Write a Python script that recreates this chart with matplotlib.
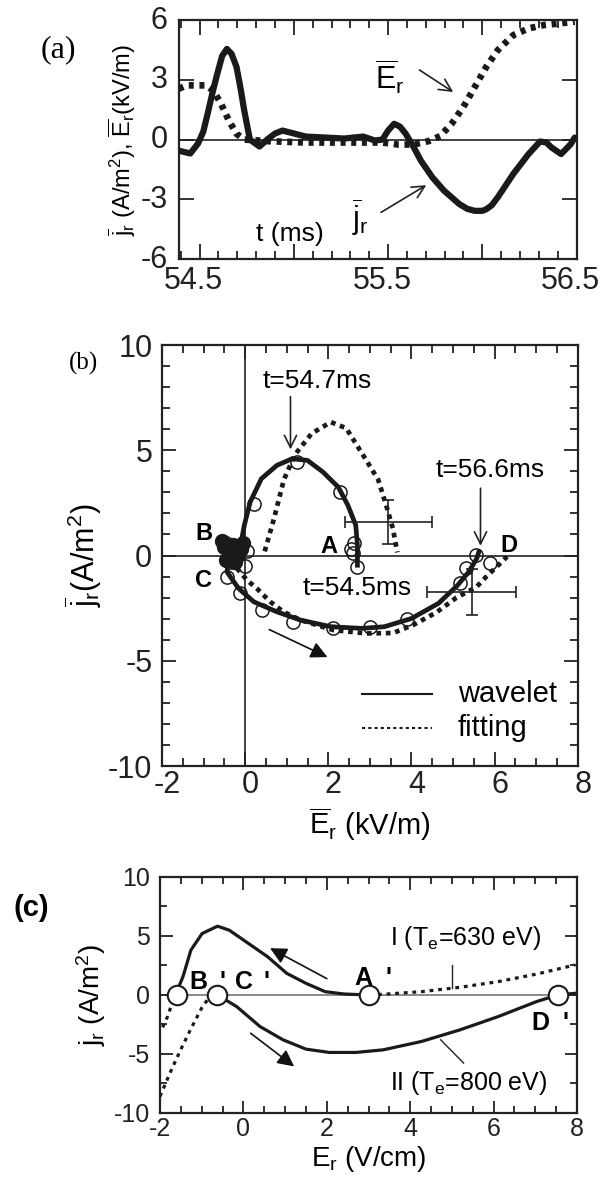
import matplotlib
matplotlib.use('Agg')
import matplotlib.pyplot as plt
from matplotlib.ticker import MultipleLocator
from matplotlib.transforms import ScaledTranslation

plt.rcParams['font.family'] = ['Liberation Sans', 'DejaVu Sans']
plt.rcParams['mathtext.fontset'] = 'custom'
plt.rcParams['mathtext.rm'] = 'Liberation Sans'
plt.rcParams['mathtext.it'] = 'Liberation Sans'
plt.rcParams['mathtext.bf'] = 'Liberation Sans:bold'
plt.rcParams['axes.unicode_minus'] = False

# ---------------- data: panel (a) ----------------
t_j = [54.39, 54.451, 54.492, 54.52, 54.543, 54.57, 54.594, 54.62, 54.645, 54.67,
       54.696, 54.717, 54.737, 54.767, 54.818, 54.859, 54.90, 54.94, 55.002, 55.063,
       55.165, 55.267, 55.368, 55.43, 55.47, 55.50, 55.532, 55.563, 55.593, 55.634,
       55.674, 55.735, 55.797, 55.878, 55.92, 55.96, 56.0, 56.021, 56.05, 56.082,
       56.164, 56.245, 56.306, 56.34, 56.367, 56.418, 56.469, 56.49]
j_t = [-0.56, -0.7, -0.2, 0.4, 1.3, 2.4, 3.3, 4.2, 4.55, 4.3,
       3.65, 2.6, 1.46, 0.0, -0.35, 0.0, 0.3, 0.45, 0.3, 0.15,
       0.1, 0.05, 0.15, -0.05, 0.0, 0.45, 0.79, 0.65, 0.3, -0.35,
       -1.06, -1.9, -2.57, -3.24, -3.48, -3.58, -3.58, -3.5, -3.3, -2.9,
       -1.73, -0.73, -0.1, -0.15, -0.4, -0.73, -0.23, 0.1]
t_E = [54.39, 54.431, 54.533, 54.573, 54.614, 54.655, 54.696, 54.737, 54.859, 55.063,
       55.267, 55.47, 55.552, 55.634, 55.715, 55.776, 55.837, 55.899, 55.96, 56.021,
       56.082, 56.164, 56.245, 56.327, 56.408, 56.49]
E_t = [2.55, 2.72, 2.72, 2.46, 1.8, 0.96, 0.29, 0.0, -0.08, -0.15,
       -0.15, -0.15, -0.25, -0.25, -0.08, 0.17, 0.79, 1.63, 2.64, 3.65,
       4.49, 5.24, 5.58, 5.75, 5.83, 5.92]
a_xticks = [54.5, 55.0, 55.5, 56.0, 56.5]
a_xticklabels = ['54.5', '', '55.5', '', '56.5']
a_yticks = [-6, -3, 0, 3, 6]

# ---------------- data: panel (b) ----------------
wav_E = [2.70, 2.70, 2.66, 2.47, 2.24, 1.87, 1.50, 1.13, 0.76, 0.39, 0.12, -0.02, -0.11,
         -0.35, -0.44, -0.16, 0.21, 0.76, 1.32, 2.06, 2.80, 3.35, 4.00, 4.65, 5.11, 5.38,
         5.57, 5.62]
wav_j = [-0.46, 0.49, 1.44, 2.39, 3.25, 3.97, 4.52, 4.60, 4.28, 3.65, 2.54, 1.44, 0.49,
         0.17, -0.77, -1.56, -2.20, -2.67, -3.06, -3.38, -3.46, -3.38, -2.99, -2.27, -1.41,
         -0.77, -0.14, 0.17]
circ_E = [2.62, 2.60, 2.70, 2.55, 2.28, 1.24, 0.22, -0.45, -0.20, 0.05, -0.35, 0.0,
          -0.44, -0.13, 0.40, 1.16, 2.12, 3.0, 3.9, 5.16, 5.56, 5.88, 5.30]
circ_j = [0.60, 0.10, -0.53, 0.30, 3.03, 4.45, 2.45, 0.60, 0.40, 0.20, -0.30, -0.50,
          -1.00, -1.80, -2.59, -3.14, -3.46, -3.38, -3.0, -1.32, 0.02, -0.37, -0.60]
blob_E = [-0.50, -0.40, -0.30, -0.20, -0.10, -0.45, -0.25, -0.05, -0.55, -0.35, -0.15]
blob_j = [0.40, 0.10, 0.50, 0.00, 0.30, -0.20, -0.30, 0.60, 0.70, 0.25, 0.15]
fitU_E = [0.47, 0.70, 0.93, 1.20, 1.60, 2.06, 2.43, 2.89, 3.20, 3.42, 3.55, 3.66]
fitU_j = [0.20, 1.80, 3.60, 4.80, 5.80, 6.34, 6.05, 4.60, 3.60, 2.20, 1.30, 0.15]
fitL_E = [-0.20, 0.04, 0.30, 0.60, 0.92, 1.32, 2.12, 2.92, 3.56, 4.04, 4.60, 5.08,
          5.56, 5.80, 6.05, 6.30]
fitL_j = [-0.60, -1.16, -1.60, -2.19, -2.67, -3.06, -3.54, -3.70, -3.68, -3.30, -2.70,
          -2.00, -1.50, -1.00, -0.53, -0.05]
err_E = [3.44, 5.45]
err_j = [1.60, -1.72]
err_xe = [1.05, 1.07]
err_ye = [1.05, 1.10]

# ---------------- data: panel (c) ----------------
cI_E = [-1.63, -1.45, -1.26, -0.99, -0.62, -0.34, 0.12, 0.58, 1.04, 1.50, 1.96, 2.42, 3.02]
cI_j = [0.0, 1.55, 3.80, 5.21, 5.83, 5.49, 4.37, 3.24, 1.83, 0.99, 0.28, 0.08, 0.0]
cIdot_E = [3.02, 3.35, 4.27, 5.19, 6.11, 7.03, 7.95]
cIdot_j = [0.0, 0.06, 0.28, 0.65, 1.13, 1.77, 2.54]
cII_E = [-0.62, -0.16, 0.40, 0.95, 1.50, 2.06, 2.70, 3.35, 4.27, 5.19, 6.11, 7.03, 7.54, 7.95]
cII_j = [0.0, -0.99, -2.68, -3.80, -4.59, -4.87, -4.87, -4.65, -3.94, -2.96, -1.83, -0.56, 0.0, 0.14]
cLdot_E = [-2.0, -1.76, -1.50, -1.25, -1.00, -0.80]
cLdot_j = [-8.6, -6.6, -4.6, -2.8, -1.1, -0.1]
cBdot_E = [-1.68, -1.82, -1.97]
cBdot_j = [-0.4, -1.83, -3.0]
pts_E = [-1.60, -0.63, 3.02, 7.54]
pts_j = [0.0, 0.0, 0.0, 0.0]

# ---------------- figure ----------------
fig = plt.figure(figsize=(6, 11.8), dpi=100)


def style(ax, maj=9, mnr=5):
    ax.tick_params(which='both', direction='in', top=True, right=True, width=1.3,
                   colors='#222222')
    ax.tick_params(which='major', length=maj)
    ax.tick_params(which='minor', length=mnr)
    for s in ax.spines.values():
        s.set_linewidth(1.6)
        s.set_color('#222222')


def shift_labels(ax, axis, dx_px=0, dy_px=0):
    labels = ax.get_xticklabels() if axis == 'x' else ax.get_yticklabels()
    off = ScaledTranslation(dx_px / 100, dy_px / 100, fig.dpi_scale_trans)
    for lbl in labels:
        lbl.set_transform(lbl.get_transform() + off)


# ----- (a) -----
axa = fig.add_axes([0.298, 0.7805, 0.663, 0.2025])
axa.axhline(0, color='#222222', lw=1.2, zorder=1)
axa.plot(t_j, j_t, color='#1a1a1a', lw=4.5, solid_joinstyle='round',
         solid_capstyle='round', zorder=3)
axa.plot(t_E, E_t, color='#1a1a1a', lw=4.8, linestyle=(0, (0.75, 0.85)),
         dash_capstyle='butt', zorder=2)
axa.set_xlim(54.39, 56.5)
axa.set_ylim(-6, 6)
axa.set_xticks(a_xticks)
axa.set_xticklabels(a_xticklabels)
axa.xaxis.set_minor_locator(MultipleLocator(0.1))
axa.set_yticks(a_yticks)
style(axa, maj=11, mnr=6)
axa.tick_params(labelsize=22, pad=3)
axa.tick_params(axis='x', pad=5)
axa.tick_params(axis='y', pad=8)
shift_labels(axa, 'x', dx_px=-6)
shift_labels(axa, 'y', dy_px=3)
axa.set_ylabel(r'$\overline{j}_r$ (A/m$^2$), $\overline{E}_r$(kV/m)', fontsize=17, labelpad=2)
axa.text(54.98, -4.74, 't (ms)', fontsize=19, ha='center', va='center')
axa.text(55.51, 3.15, r'$\overline{E}_r$', fontsize=22, ha='center', va='center')
axa.annotate('', xy=(55.858, 2.31), xytext=(55.654, 3.57),
             arrowprops=dict(arrowstyle='->', lw=1.2, color='#222222',
                             mutation_scale=22))
axa.text(55.35, -3.95, r'$\overline{j}_r$', fontsize=22, ha='center', va='center')
axa.annotate('', xy=(55.715, -2.22), xytext=(55.45, -3.73),
             arrowprops=dict(arrowstyle='->', lw=1.2, color='#222222',
                             mutation_scale=22))
fig.text(58 / 600, 1 - 50 / 1180, '(a)', family='Liberation Serif', fontsize=23,
         ha='center', va='center')

# ----- (b) -----
axb = fig.add_axes([0.27, 0.3508, 0.693, 0.3568])
axb.axhline(0, color='#222222', lw=1.2, zorder=1)
axb.axvline(0, color='#222222', lw=1.2, zorder=1)
axb.plot(fitU_E, fitU_j, color='#1a1a1a', lw=3.4, linestyle=(0, (1, 1)),
         dash_capstyle='butt', zorder=2)
axb.plot(fitL_E, fitL_j, color='#1a1a1a', lw=3.4, linestyle=(0, (1, 1)),
         dash_capstyle='butt', zorder=2)
axb.plot(wav_E, wav_j, color='#1a1a1a', lw=3.4, solid_joinstyle='round', zorder=3)
axb.plot(circ_E, circ_j, linestyle='none', marker='o', ms=9.5, mfc='none',
         mec='#1a1a1a', mew=1.1, zorder=4)
axb.plot(blob_E, blob_j, linestyle='none', marker='o', ms=10, mfc='#1a1a1a',
         mec='#1a1a1a', zorder=4)
axb.errorbar(err_E, err_j, xerr=err_xe, yerr=err_ye, fmt='none', ecolor='#222222',
             elinewidth=1.2, capsize=4, capthick=1.2, zorder=3)
axb.set_xlim(-2, 8)
axb.set_ylim(-10, 10)
axb.xaxis.set_major_locator(MultipleLocator(2))
axb.xaxis.set_minor_locator(MultipleLocator(0.5))
axb.yaxis.set_major_locator(MultipleLocator(5))
axb.yaxis.set_minor_locator(MultipleLocator(1))
style(axb, maj=10, mnr=6)
axb.tick_params(labelsize=22, pad=3)
axb.tick_params(axis='y', pad=7)
shift_labels(axb, 'x', dx_px=5)
axb.set_xlabel(r'$\overline{E}_r$ (kV/m)', fontsize=21, labelpad=4)
axb.set_ylabel(r'$\overline{j}_r$(A/m$^2$)', fontsize=22, labelpad=2)
axb.text(1.73, 8.31, 't=54.7ms', fontsize=19, ha='center', va='center')
axb.annotate('', xy=(1.09, 4.91), xytext=(1.09, 7.68),
             arrowprops=dict(arrowstyle='->', lw=1.2, color='#222222',
                             mutation_scale=22))
axb.text(5.89, 4.04, 't=56.6ms', fontsize=19, ha='center', va='center')
axb.annotate('', xy=(5.66, 0.33), xytext=(5.66, 3.33),
             arrowprops=dict(arrowstyle='->', lw=1.2, color='#222222',
                             mutation_scale=22))
axb.text(2.70, -1.56, 't=54.5ms', fontsize=19, ha='center', va='center')
for lab, x, y in [('A', 2.01, 0.41), ('B', -0.99, 1.04), ('C', -0.99, -1.2), ('D', 6.35, 0.49)]:
    axb.text(x, y, lab, fontsize=17, fontweight='bold', ha='center', va='center')
axb.annotate('', xy=(2.04, -4.88), xytext=(0.52, -3.46),
             arrowprops=dict(arrowstyle='-|>', lw=1.2, color='#111111',
                             mutation_scale=25))
axb.plot([2.8, 4.5], [-6.56, -6.56], color='#1a1a1a', lw=1.5)
axb.plot([2.8, 4.5], [-8.2, -8.2], color='#1a1a1a', lw=1.5, linestyle=(0, (1.5, 1.5)))
axb.text(5.11, -6.56, 'wavelet', fontsize=21, ha='left', va='center')
axb.text(5.11, -8.2, 'fitting', fontsize=21, ha='left', va='center')
fig.text(83 / 600, 1 - 363 / 1180, '(b)', family='Liberation Serif', fontsize=18,
         ha='center', va='center')

# ----- (c) -----
axc = fig.add_axes([0.2667, 0.0568, 0.695, 0.2])
axc.axhline(0, color='#777777', lw=1.2, zorder=1)
axc.plot(cI_E, cI_j, color='#1a1a1a', lw=2.3, zorder=3)
axc.plot(cII_E, cII_j, color='#1a1a1a', lw=2.3, zorder=3)
axc.plot(cIdot_E, cIdot_j, color='#1a1a1a', lw=2.3, linestyle=(0, (1.2, 1.5)), zorder=2)
axc.plot(cLdot_E, cLdot_j, color='#1a1a1a', lw=2.3, linestyle=(0, (1.2, 1.5)), zorder=2)
axc.plot(cBdot_E, cBdot_j, color='#1a1a1a', lw=2.3, linestyle=(0, (1.2, 1.5)), zorder=2)
axc.plot(pts_E, pts_j, linestyle='none', marker='o', ms=14, mfc='white',
         mec='#1a1a1a', mew=1.5, zorder=5, clip_on=False)
axc.set_xlim(-2, 8)
axc.set_ylim(-10, 10)
axc.xaxis.set_major_locator(MultipleLocator(2))
axc.xaxis.set_minor_locator(MultipleLocator(0.5))
axc.yaxis.set_major_locator(MultipleLocator(5))
axc.yaxis.set_minor_locator(MultipleLocator(2.5))
style(axc, maj=9, mnr=5)
axc.tick_params(labelsize=18, pad=3)
axc.tick_params(axis='y', pad=7)
axc.set_xlabel(r'$E_r$ (V/cm)', fontsize=20, labelpad=2)
axc.set_ylabel(r'$j_r$ (A/m$^2$)', fontsize=20, labelpad=4)
for lab, x, y in [('B', -1.08, 1.13), ("'", -0.5, 1.13), ('C', 0.02, 1.13), ("'", 0.55, 1.13),
                  ('A', 2.88, 1.41), ("'", 3.48, 1.41), ('D', 7.12, -2.39), ("'", 7.72, -2.39)]:
    axc.text(x, y, lab, fontsize=18, fontweight='bold', ha='center', va='center', zorder=6)
axc.text(5.33, 4.79, r'I (T$_e$=630 eV)', fontsize=18, ha='center', va='center')
axc.text(5.40, -7.46, r'II (T$_e$=800 eV)', fontsize=18, ha='center', va='center')
axc.plot([5.0, 5.0], [2.54, 0.56], color='#222222', lw=1.0)
axc.plot([4.73, 5.28], [-3.8, -5.77], color='#222222', lw=1.0)
axc.annotate('', xy=(0.58, 4.08), xytext=(2.06, 1.27),
             arrowprops=dict(arrowstyle='-|>', lw=1.2, color='#111111',
                             mutation_scale=25))
axc.annotate('', xy=(1.27, -6.2), xytext=(0.12, -3.1),
             arrowprops=dict(arrowstyle='-|>', lw=1.2, color='#111111',
                             mutation_scale=25))
fig.text(31 / 600, 1 - 908 / 1180, '(c)', fontsize=21, fontweight='bold',
         ha='center', va='center')

fig.savefig('out.png', dpi=100)
